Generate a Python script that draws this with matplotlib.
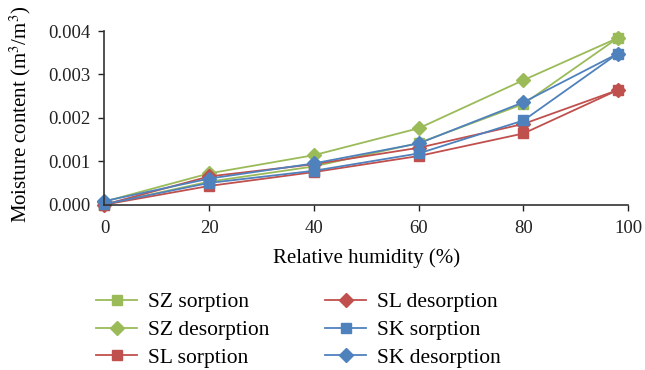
import matplotlib
matplotlib.use("Agg")
import matplotlib.pyplot as plt

plt.rcParams['font.family'] = ['Liberation Serif', 'DejaVu Serif']
plt.rcParams['mathtext.fontset'] = 'stix'

rh = [0, 20, 40, 60, 80, 98]
sz_sorption = [0.00000, 0.00053, 0.00088, 0.00142, 0.00232, 0.00384]
sz_desorption = [0.00007, 0.00072, 0.00114, 0.00176, 0.00287, 0.00384]
sl_sorption = [0.00000, 0.00043, 0.00075, 0.00112, 0.00164, 0.00264]
sl_desorption = [0.00000, 0.00065, 0.00093, 0.00131, 0.00186, 0.00264]
sk_sorption = [0.00001, 0.00050, 0.00078, 0.00118, 0.00194, 0.00348]
sk_desorption = [0.00008, 0.00060, 0.00095, 0.00141, 0.00236, 0.00348]

green = '#9BBB59'
red = '#C0504D'
blue = '#4F81BD'

series = [
    ("SZ sorption", sz_sorption, green, 's'),
    ("SZ desorption", sz_desorption, green, 'D'),
    ("SL sorption", sl_sorption, red, 's'),
    ("SL desorption", sl_desorption, red, 'D'),
    ("SK sorption", sk_sorption, blue, 's'),
    ("SK desorption", sk_desorption, blue, 'D'),
]

fig = plt.figure(figsize=(6.45, 3.7), dpi=100)
ax = fig.add_axes([0.162, 0.447, 0.812, 0.469])

for name, vals, col, mk in series:
    ax.plot(rh, vals, color=col, marker=mk, markersize=6.5 if mk == 's' else 7,
            linewidth=1.3, label=name, clip_on=False)

ax.set_xlim(0, 100)
ax.set_ylim(0, 0.004)
ax.set_xticks([0, 20, 40, 60, 80, 100])
ax.set_yticks([0, 0.001, 0.002, 0.003, 0.004])
ax.set_yticklabels(['0.000', '0.001', '0.002', '0.003', '0.004'])
ax.tick_params(labelsize=13.5, direction='out', length=4, width=1, colors='#222222')
ax.tick_params(axis='y', pad=6)
ax.tick_params(axis='x', pad=7)
ax.spines['top'].set_visible(False)
ax.spines['right'].set_visible(False)
for s in ['left', 'bottom']:
    ax.spines[s].set_color('#333333')
    ax.spines[s].set_linewidth(1.2)

ax.set_xlabel('Relative humidity (%)', fontsize=15)
ax.set_ylabel('Moisture content (m$^3$/m$^3$)', fontsize=15)
ax.yaxis.set_label_coords(-0.137, 0.52)
ax.xaxis.set_label_coords(0.5, -0.25)

fig.legend(loc='center', bbox_to_anchor=(0.463, 0.108), ncol=2, frameon=False,
           prop={'family': 'Liberation Serif', 'size': 15.5},
           handlelength=1.9, columnspacing=2.6, labelspacing=0.36,
           handletextpad=0.5)

fig.savefig('out.png', dpi=100)
